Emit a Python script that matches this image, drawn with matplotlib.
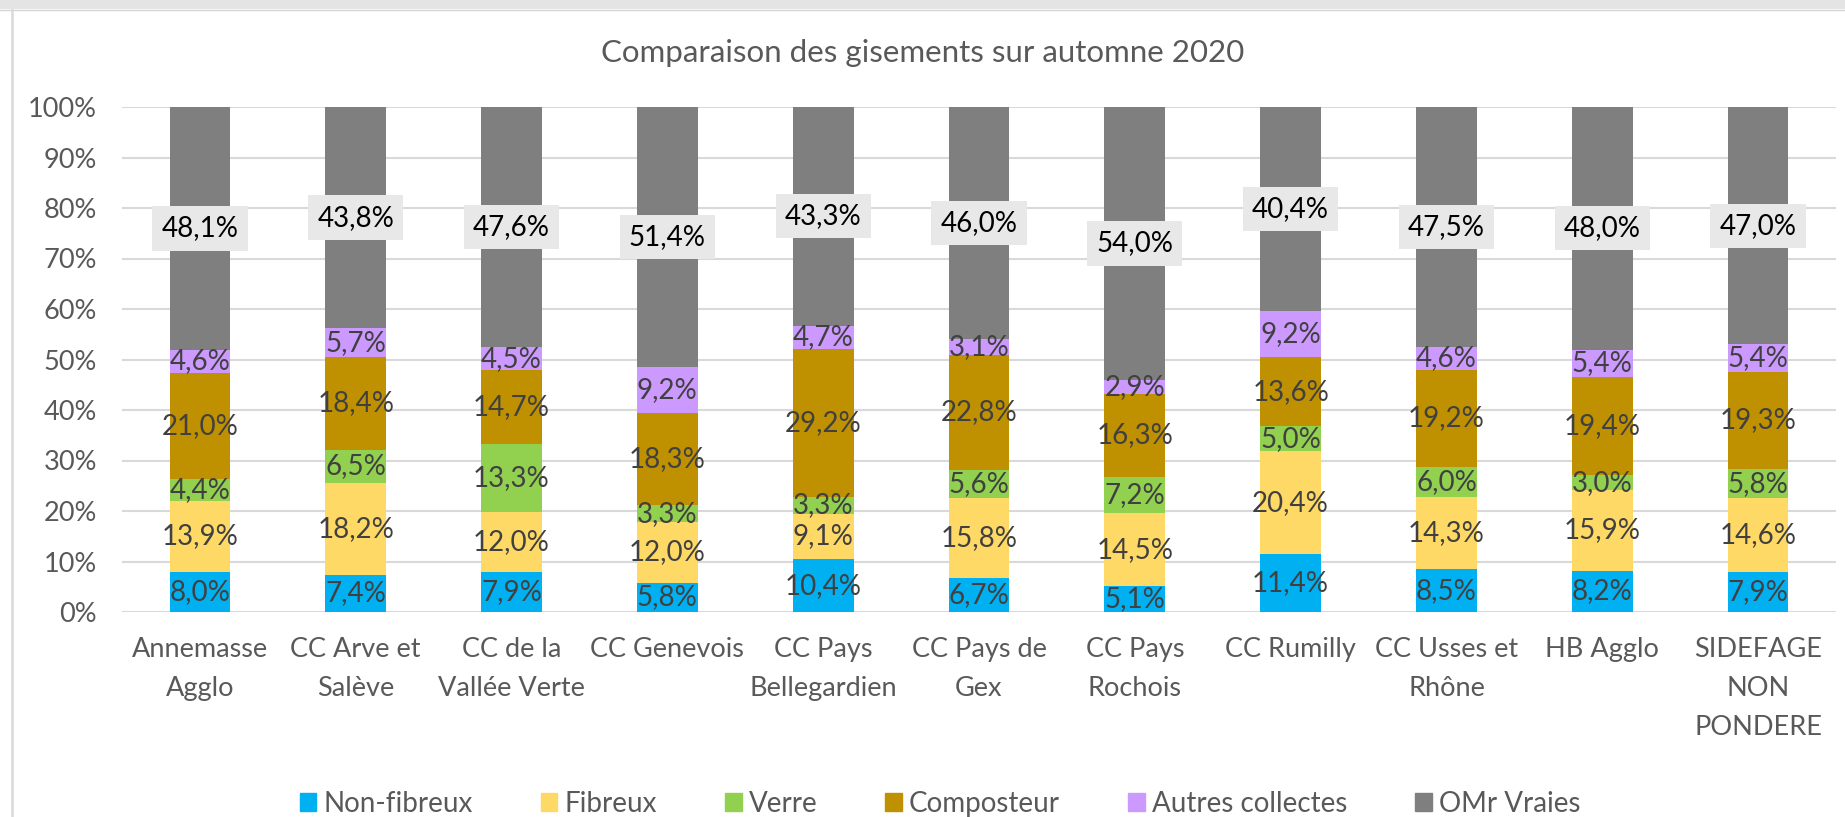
import numpy as np
import matplotlib
matplotlib.use("Agg")
import matplotlib.pyplot as plt
from matplotlib.patches import Rectangle
from matplotlib.lines import Line2D

plt.rcParams['font.family'] = ['Lato', 'DejaVu Sans']

categories = ['Annemasse\nAgglo', 'CC Arve et\nSalève', 'CC de la\nVallée Verte', 'CC Genevois',
              'CC Pays\nBellegardien', 'CC Pays de\nGex', 'CC Pays\nRochois', 'CC Rumilly',
              'CC Usses et\nRhône', 'HB Agglo', 'SIDEFAGE\nNON\nPONDERE']
series = ['Non-fibreux', 'Fibreux', 'Verre', 'Composteur', 'Autres collectes', 'OMr Vraies']
non_fibreux = [8.0, 7.4, 7.9, 5.8, 10.4, 6.7, 5.1, 11.4, 8.5, 8.2, 7.9]
fibreux = [13.9, 18.2, 12.0, 12.0, 9.1, 15.8, 14.5, 20.4, 14.3, 15.9, 14.6]
verre = [4.4, 6.5, 13.3, 3.3, 3.3, 5.6, 7.2, 5.0, 6.0, 3.0, 5.8]
composteur = [21.0, 18.4, 14.7, 18.3, 29.2, 22.8, 16.3, 13.6, 19.2, 19.4, 19.3]
autres = [4.6, 5.7, 4.5, 9.2, 4.7, 3.1, 2.9, 9.2, 4.6, 5.4, 5.4]
omr = [48.1, 43.8, 47.6, 51.4, 43.3, 46.0, 54.0, 40.4, 47.5, 48.0, 47.0]
colors = ['#00B0F0', '#FFD966', '#92D050', '#BF9000', '#CC99FF', '#7F7F7F']

data = np.array([non_fibreux, fibreux, verre, composteur, autres, omr])
# 100% stacked, like Excel
shares = data / data.sum(axis=0) * 100

fig = plt.figure(figsize=(18.45, 8.17), dpi=100)
ax = fig.add_axes([122/1845, 1-612/817, (1836-122)/1845, (612-107)/817])

x = np.arange(len(categories))
bottom = np.zeros(len(categories))
for s in range(len(series)):
    ax.bar(x, shares[s], 0.39, bottom=bottom, color=colors[s], label=series[s], zorder=2)
    for i in range(len(categories)):
        txt = ('%.1f%%' % data[s][i]).replace('.', ',')
        yc = bottom[i] + shares[s][i] / 2
        if s == len(series) - 1:
            ax.text(x[i], yc, txt, ha='center', va='center', fontsize=20, color='black', zorder=4,
                    bbox=dict(boxstyle='square,pad=0.33', facecolor='#E8E8E8', edgecolor='none'))
        else:
            ax.text(x[i], yc, txt, ha='center', va='center', fontsize=20, color='#404040', zorder=4)
    bottom += shares[s]

ax.set_xlim(-0.5, len(categories) - 0.5)
ax.set_ylim(0, 100)
ax.set_yticks(range(0, 101, 10))
ax.set_yticklabels(['%d%%' % v for v in range(0, 101, 10)])
ax.set_xticks(x)
ax.set_xticklabels(categories, linespacing=1.7, va='top')
ax.tick_params(axis='both', length=0, labelsize=19.5, colors='#595959')
ax.tick_params(axis='x', pad=18)
ax.tick_params(axis='y', pad=18)
ax.grid(axis='y', color='#D9D9D9', linewidth=1.5, zorder=0)
for sp in ax.spines.values():
    sp.set_visible(False)

fig.text(0.5, 1-53/817, 'Comparaison des gisements sur automne 2020', ha='center', va='center',
         fontsize=22.5, color='#595959')

handles = [Rectangle((0, 0), 1, 1, color=c) for c in colors]
fig.legend(handles, series, loc='center', bbox_to_anchor=(940/1845, 1-804/817), ncol=6,
           frameon=False, fontsize=20, labelcolor='#595959', handlelength=0.6, handleheight=0.6,
           handletextpad=0.25, columnspacing=2.45)

# screenshot frame
fig.patches.append(Rectangle((0, 1-9/817), 1, 9/817, transform=fig.transFigure,
                             facecolor='#E4E4E4', edgecolor='none'))
fig.lines.append(Line2D([0, 1], [1-10/817, 1-10/817], transform=fig.transFigure, color='#D4D4D4', lw=1))
fig.lines.append(Line2D([11.5/1845, 11.5/1845], [0, 1-10/817], transform=fig.transFigure, color='#D9D9D9', lw=1.8))

fig.savefig('out.png', dpi=100)
